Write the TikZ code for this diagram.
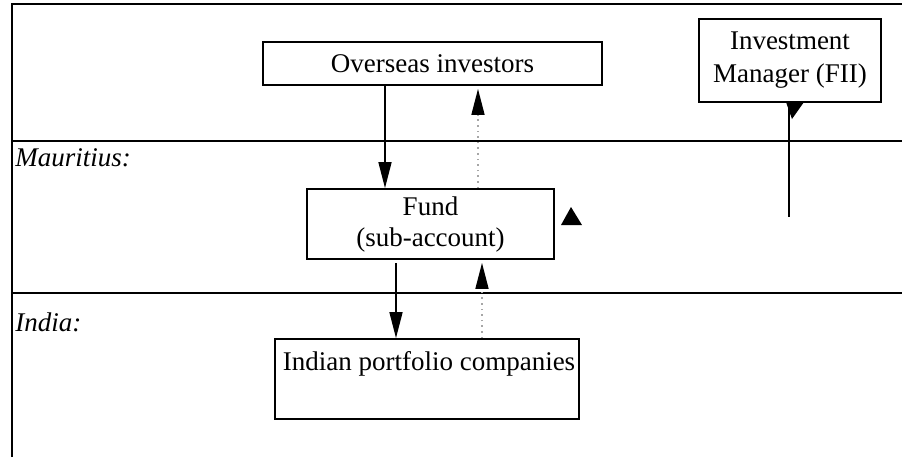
\documentclass[tikz,border=0pt]{standalone}
\usepackage{fontspec}
\setmainfont{Liberation Serif}
\usetikzlibrary{arrows.meta}
\tikzset{
  box/.style={draw, line width=0.9pt, rectangle, inner sep=0pt, align=center, font=\fontsize{13.5}{15.5}\selectfont},
  lbl/.style={inner sep=0pt, font=\fontsize{13.5}{15.5}\selectfont\itshape, anchor=base west},
  rule/.style={line width=0.9pt},
  flow/.style={line width=0.8pt, -{Triangle[width=6.5pt,length=13pt]}},
  back/.style={line width=0.8pt, draw=gray!70, dotted, -{Triangle[width=6.5pt,length=13pt,color=black,fill=black]}},
  head/.style={fill=black, draw=none}
}
\begin{document}
\begin{tikzpicture}[x=0.5pt, y=-0.5pt]
\useasboundingbox (0,0) rectangle (902,457);
% frame and separators
\draw[rule] (12,457) -- (12,4) -- (902,4);
\draw[rule] (12,141) -- (902,141);
\draw[rule] (12,293) -- (902,293);
\node[lbl] (mau) at (15,166) {Mauritius:};
\node[lbl] (ind) at (15,331) {India:};
% boxes
\node[box, minimum width=169.5pt, minimum height=21.5pt] (oi) at (432.5,63.5) {Overseas investors};
\node[box, minimum width=91pt, minimum height=41.5pt, font=\fontsize{13.5}{16.5}\selectfont] (im) at (790,60.5) {Investment\\Manager (FII)};
\node[box, minimum width=123.5pt, minimum height=35pt, font=\fontsize{13.5}{15.5}\selectfont] (fund) at (430.5,224) {Fund\\(sub-account)};
\node[box, minimum width=152pt, minimum height=40pt] (ipc) at (427,379) {};
\node[inner sep=0pt, anchor=base, font=\fontsize{13.5}{15.5}\selectfont] (ipct) at (429,370) {Indian portfolio companies};
% solid flows
\draw[flow] (oi.south -| 385,0) -- (fund.north -| 385,0);
\coordinate (fs) at (396,263);
\draw[flow] (fs) -- (ipc.north -| 396,0);
% dotted returns
\draw[back, shorten >=1.5pt] (fund.north -| 478,0) -- (oi.south -| 478,0);
\draw[back, shorten >=1.5pt] (ipc.north -| 482,0) -- (fund.south -| 482,0);
% investment manager line
\coordinate (imend) at (789,217);
\draw[line width=0.8pt] (im.south -| 789,0) -- (imend);
\fill[head] (786,102) -- (804,102) -- (792,119) -- cycle;
% free triangle
\fill[head] (561,225) -- (582,225) -- (571,207) -- cycle;
\end{tikzpicture}
\end{document}
